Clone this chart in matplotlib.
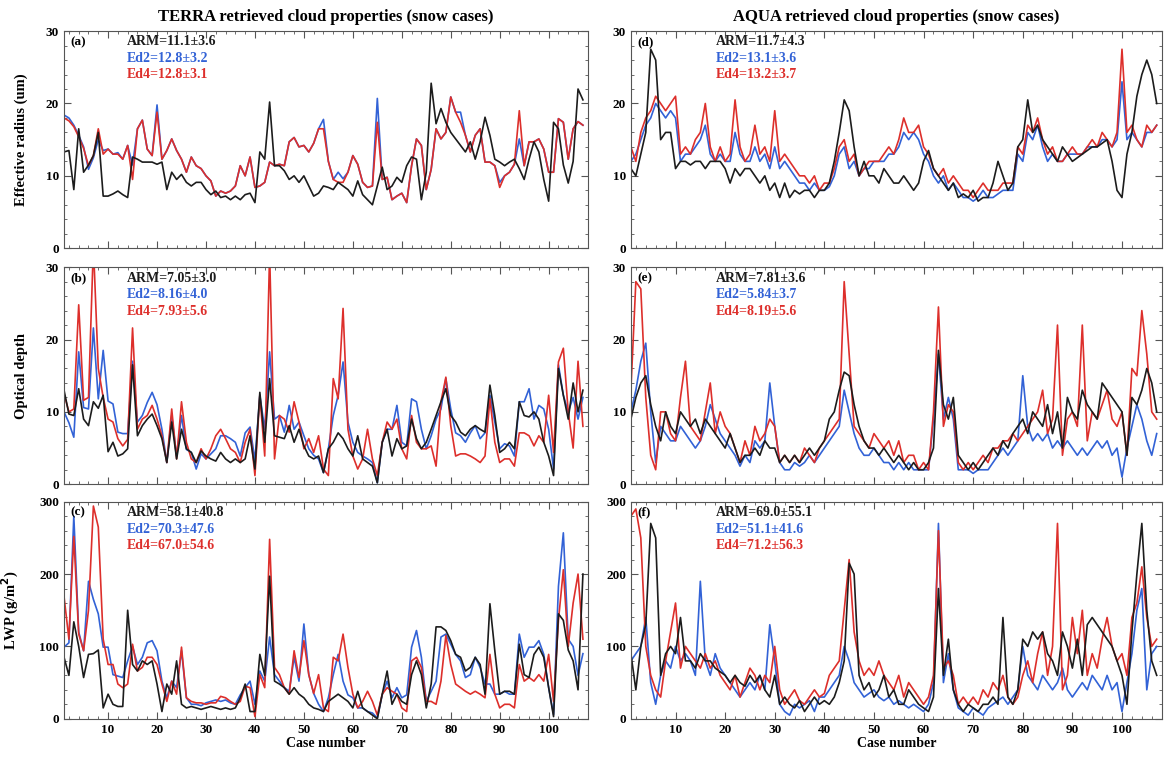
import numpy as np
import matplotlib
matplotlib.use("Agg")
import matplotlib.pyplot as plt
from matplotlib.ticker import MultipleLocator

plt.rcParams['font.family'] = ['Liberation Serif', 'DejaVu Serif']
plt.rcParams['font.weight'] = 'bold'

cases = np.arange(1, 108)

# ---- TERRA ----
arm_a = [13.3, 13.5, 8.1, 16.5, 10.5, 11.5, 12.8, 16.0, 7.2, 7.2, 7.5, 7.9, 7.4, 7.0, 12.6, 12.3, 11.9, 11.9, 11.9, 11.6,
         11.9, 8.1, 10.5, 9.5, 10.2, 9.1, 8.6, 9.1, 9.1, 8.1, 7.4, 7.9, 7.0, 7.2, 6.7, 7.2, 6.7, 7.4, 7.6, 6.3,
         13.3, 12.3, 20.2, 11.4, 11.4, 10.7, 9.5, 10.0, 9.1, 10.0, 8.6, 7.2, 7.6, 8.6, 8.4, 8.1, 9.1, 8.6, 8.1, 7.2,
         9.3, 7.4, 6.7, 6.0, 8.6, 11.2, 8.1, 8.6, 9.8, 9.1, 11.4, 12.6, 12.3, 6.7, 10.5, 22.8, 17.2, 19.3, 17.4, 16.0,
         15.1, 14.2, 13.3, 14.7, 12.3, 14.7, 18.1, 15.6, 12.3, 11.9, 11.4, 11.9, 12.3, 11.0, 9.5, 12.3, 14.7, 13.3, 9.5, 6.5,
         17.4, 16.5, 11.5, 9.0, 12.0, 22.0, 20.5]
ed2_a = [18.4, 18.0, 17.0, 15.6, 14.0, 10.9, 12.5, 15.0, 13.5, 13.7, 13.0, 13.2, 12.3, 14.2, 11.5, 16.5, 17.7, 13.7, 12.8, 19.8,
         12.3, 13.5, 15.1, 13.5, 12.3, 10.5, 12.6, 11.4, 11.0, 10.0, 9.3, 7.2, 7.9, 7.6, 7.9, 8.6, 11.4, 10.0, 12.6, 8.4,
         8.6, 9.1, 11.9, 11.4, 11.6, 11.4, 14.7, 15.3, 14.0, 14.2, 13.3, 14.5, 16.5, 17.8, 12.0, 9.5, 10.5, 9.6, 10.5, 12.8,
         11.6, 9.1, 8.4, 8.6, 20.7, 9.5, 9.8, 6.7, 7.2, 7.6, 6.3, 11.4, 15.1, 14.2, 8.1, 10.9, 16.5, 15.1, 16.0, 20.9,
         18.8, 18.8, 15.6, 13.3, 15.6, 16.5, 11.9, 11.9, 11.4, 9.1, 10.0, 10.5, 11.6, 15.1, 11.4, 14.7, 14.7, 15.1, 13.7, 10.5,
         10.5, 17.9, 17.4, 12.3, 16.5, 17.5, 17.0]
ed4_a = [18.0, 17.6, 16.8, 15.4, 13.8, 11.4, 12.8, 16.5, 13.0, 13.7, 13.0, 13.0, 12.3, 14.2, 9.5, 16.5, 17.7, 13.7, 12.8, 18.8,
         12.3, 13.5, 15.1, 13.5, 12.3, 10.5, 12.6, 11.4, 11.0, 10.0, 9.3, 7.2, 7.9, 7.6, 7.9, 8.6, 11.4, 10.0, 12.6, 8.4,
         8.6, 9.1, 11.9, 11.4, 11.6, 11.4, 14.7, 15.3, 14.0, 14.2, 13.3, 14.5, 16.5, 16.5, 12.0, 9.5, 9.1, 9.1, 10.5, 12.8,
         11.6, 9.1, 8.4, 8.6, 17.4, 9.5, 9.8, 6.7, 7.2, 7.6, 6.3, 11.4, 15.1, 14.2, 8.1, 10.9, 16.5, 15.1, 16.0, 20.9,
         18.8, 17.4, 15.6, 13.3, 15.6, 16.5, 11.9, 11.9, 11.4, 8.4, 10.0, 10.5, 11.6, 19.0, 11.4, 14.7, 14.7, 15.1, 13.7, 10.5,
         10.5, 17.9, 17.4, 12.3, 16.5, 17.5, 17.0]

arm_b = [13.0, 9.7, 9.5, 13.2, 9.0, 8.1, 11.4, 10.5, 12.3, 4.5, 5.8, 3.9, 4.2, 4.9, 16.5, 6.7, 8.1, 9.0, 9.7, 8.1,
         6.3, 3.0, 8.6, 3.5, 7.6, 4.9, 4.4, 3.0, 4.6, 3.9, 3.5, 3.2, 4.4, 3.5, 3.0, 3.5, 3.0, 3.5, 6.7, 2.1,
         12.7, 5.8, 14.6, 6.7, 6.5, 6.3, 8.1, 5.8, 7.6, 5.3, 3.9, 3.5, 3.9, 1.6, 4.9, 5.8, 7.1, 6.3, 4.9, 3.9,
         6.7, 3.5, 3.0, 2.5, 0.2, 5.8, 7.6, 3.9, 6.3, 4.9, 5.3, 9.0, 6.3, 4.9, 5.8, 7.6, 9.5, 11.4, 13.2, 9.5,
         8.6, 7.2, 6.7, 7.6, 8.1, 7.6, 7.2, 13.7, 9.5, 4.4, 4.9, 5.8, 4.9, 11.4, 9.5, 9.3, 10.0, 9.0, 5.8, 3.9,
         1.2, 16.0, 12.3, 9.0, 14.0, 10.0, 13.0]
ed2_b = [10.0, 8.5, 6.5, 18.3, 10.6, 10.4, 21.6, 11.8, 18.5, 11.5, 11.1, 7.2, 7.0, 7.0, 17.0, 8.6, 9.5, 11.3, 12.7, 11.0,
         7.6, 3.0, 9.5, 3.9, 9.5, 4.8, 4.4, 2.1, 4.2, 3.5, 4.2, 4.9, 6.7, 6.7, 6.3, 5.8, 3.9, 7.1, 7.9, 3.3,
         12.3, 7.6, 18.3, 9.0, 9.5, 7.2, 10.9, 7.6, 8.6, 6.7, 4.9, 4.0, 3.5, 1.6, 4.9, 9.5, 12.3, 16.9, 8.6, 5.8,
         4.4, 3.9, 3.5, 3.0, 0.2, 5.8, 7.6, 7.6, 10.9, 5.8, 5.3, 11.8, 11.4, 7.6, 4.9, 6.7, 9.0, 10.4, 14.6, 10.4,
         7.1, 6.7, 5.8, 7.1, 8.1, 6.3, 7.1, 12.3, 8.6, 4.9, 5.6, 5.3, 3.9, 11.4, 11.4, 13.2, 9.0, 10.9, 10.4, 7.6,
         2.1, 16.5, 12.3, 10.0, 12.0, 9.0, 12.0]
ed4_b = [12.5, 10.0, 10.4, 24.8, 11.6, 12.0, 33.0, 16.0, 12.0, 9.0, 8.6, 6.3, 5.3, 6.2, 21.6, 7.6, 9.0, 9.5, 10.9, 9.0,
         6.7, 3.0, 10.4, 3.5, 11.4, 5.8, 3.5, 3.0, 4.9, 3.5, 4.9, 6.7, 7.6, 6.3, 4.9, 4.4, 3.0, 5.8, 7.6, 1.2,
         12.3, 3.9, 32.0, 3.5, 9.5, 9.0, 7.2, 11.4, 8.6, 4.9, 6.3, 4.4, 6.7, 2.1, 1.2, 14.6, 11.8, 24.3, 7.6, 3.9,
         2.1, 3.5, 7.6, 3.5, 1.2, 5.8, 8.6, 7.6, 9.0, 4.9, 3.5, 9.5, 5.8, 4.9, 4.9, 5.3, 2.5, 11.4, 14.8, 8.1,
         3.9, 4.2, 4.2, 3.9, 3.5, 3.0, 3.9, 11.8, 5.8, 3.0, 3.5, 3.5, 2.5, 7.1, 7.1, 6.7, 5.3, 6.7, 5.8, 12.3,
         4.4, 16.9, 18.8, 10.0, 5.0, 17.0, 8.0]

arm_c = [85, 60, 134, 100, 57, 89, 90, 95, 15, 34, 20, 17, 17, 150, 75, 66, 80, 75, 80, 48,
         10, 48, 34, 80, 20, 15, 17, 15, 13, 15, 17, 15, 13, 15, 13, 15, 29, 48, 10, 10,
         89, 60, 197, 52, 48, 43, 34, 43, 34, 29, 20, 15, 13, 10, 24, 29, 34, 29, 24, 15,
         38, 15, 10, 5, 0, 34, 66, 20, 34, 24, 20, 61, 80, 61, 15, 48, 127, 127, 122, 108,
         89, 85, 66, 71, 85, 75, 34, 159, 94, 34, 38, 38, 34, 103, 61, 57, 89, 99, 85, 43,
         3, 145, 136, 95, 80, 40, 200]
ed2_c = [99, 105, 280, 120, 94, 190, 165, 145, 99, 99, 61, 59, 57, 80, 100, 75, 85, 105, 108, 94,
         52, 29, 52, 43, 94, 29, 20, 20, 18, 22, 24, 26, 24, 26, 22, 20, 33, 43, 52, 20,
         66, 52, 113, 61, 52, 43, 38, 85, 52, 131, 61, 35, 20, 10, 29, 61, 89, 52, 33, 29,
         15, 15, 10, 8, 1, 33, 52, 29, 43, 29, 33, 99, 122, 85, 24, 38, 52, 113, 117, 103,
         89, 80, 57, 61, 85, 71, 48, 48, 34, 34, 38, 34, 34, 117, 85, 99, 99, 108, 89, 43,
         6, 183, 257, 110, 100, 60, 90]
ed4_c = [169, 110, 252, 117, 94, 150, 294, 265, 110, 75, 75, 48, 43, 48, 103, 66, 71, 85, 85, 75,
         48, 24, 52, 34, 99, 29, 24, 22, 22, 20, 22, 22, 31, 29, 24, 20, 24, 45, 43, 3,
         61, 43, 248, 71, 61, 43, 34, 94, 57, 108, 61, 35, 61, 15, 10, 85, 80, 117, 71, 34,
         15, 24, 38, 24, 5, 34, 43, 38, 34, 15, 10, 80, 85, 71, 24, 24, 20, 52, 115, 75,
         48, 43, 38, 34, 38, 34, 29, 89, 34, 15, 20, 20, 15, 75, 52, 57, 52, 61, 52, 89,
         24, 136, 206, 100, 160, 200, 110]

# ---- AQUA ----
arm_d = [11, 10, 13, 16, 27.5, 26, 15, 16, 16, 11, 12, 12, 11.5, 12, 12, 11, 12, 12, 12, 11,
         9, 11, 10, 11, 11, 10, 9, 10, 8, 9, 7, 9, 7, 8, 7.5, 8, 8, 7, 8, 8,
         9, 12, 16, 20.5, 19, 14, 10, 12, 10, 10, 9, 11, 10, 9, 9, 10, 9, 8, 9, 12,
         13.5, 11, 10, 9, 8, 9, 7, 7.5, 7, 8, 6.5, 7, 7, 9, 12, 10, 8, 9, 14, 15,
         20.5, 16, 17, 15, 14, 13, 12, 14, 13, 12, 12.5, 13, 13.5, 14, 14, 14.5, 15, 12, 8, 7,
         13, 16, 21, 24, 26, 24, 20]
ed2_d = [12, 13, 15, 17, 18, 20, 19, 18, 19, 18, 12, 13, 13, 14, 15, 17, 13, 12, 13, 12,
         12, 16, 13, 12, 12, 14, 12, 13, 11, 14, 11, 12, 11, 10, 9, 9, 8, 9, 8, 8,
         8.5, 10, 13, 14, 11, 12, 10, 11, 11, 12, 12, 12, 13, 13, 14, 16, 15, 16, 15, 13,
         12, 10, 9, 10, 8, 9, 8, 7, 7, 6.5, 7, 8, 7, 7, 7.5, 8, 8, 8, 13, 12,
         16, 15, 17, 14, 12, 13, 12, 12, 13, 13, 13, 13, 14, 14, 14, 15, 15, 14, 15, 23,
         15, 16, 15, 14, 16, 16, 17]
ed4_d = [14, 12, 16, 18, 19, 21, 20, 19, 20, 21, 13, 14, 13, 15, 16, 20, 14, 12, 14, 12,
         13, 20.5, 14, 12, 13, 17, 13, 14, 12, 19, 12, 13, 12, 11, 10, 10, 9, 10, 8, 9,
         9, 11, 14, 15, 12, 13, 10, 11, 12, 12, 12, 13, 14, 13, 15, 18, 16, 16, 17, 14,
         13, 11, 10, 11, 9, 10, 9, 8, 8, 7, 8, 9, 8, 8, 8, 9, 9, 9, 14, 13,
         17, 16, 18, 15, 13, 14, 12, 12, 13, 14, 13, 13, 14, 15, 14, 16, 15, 14, 16, 27.5,
         16, 17, 15, 14, 17, 16, 17]

arm_e = [9, 12, 14, 15, 11, 8, 6, 10, 8, 7, 10, 9, 8, 9, 7, 9, 8, 7, 6, 5,
         7, 5, 3, 4, 4, 5, 4, 6, 5, 5, 3, 4, 3, 4, 3, 4, 5, 4, 5, 6,
         9, 10, 13, 15.5, 15, 11, 8, 6, 5, 5, 4, 5, 4, 3, 4, 3, 2, 3, 2, 2,
         3, 5, 18.5, 11, 9, 12, 4, 3, 2, 3, 2, 3, 4, 5, 4, 6, 5, 7, 8, 9,
         7, 10, 9, 8, 11, 7, 10, 5, 12, 10, 9, 13, 11, 10, 9, 14, 13, 12, 11, 10,
         4, 12, 11, 13, 16, 14, 10]
ed2_e = [10, 13, 17, 19.5, 10, 3, 8, 7, 6, 6, 8, 7, 6, 5, 6, 8, 11, 9, 7, 6,
         5, 4, 2.5, 4, 3, 6, 5, 6, 14, 8, 3, 2, 2, 3, 2.5, 3, 4, 3, 4, 5,
         6, 7, 8, 13, 10, 7, 5, 4, 4, 5, 4, 3, 3, 2, 3, 2, 3, 2, 2, 2,
         2, 9, 18, 9, 12, 9, 2, 2, 2, 1.5, 2, 2, 2, 3, 4, 5, 4, 5, 6, 15,
         8, 6, 7, 6, 7, 5, 6, 5, 6, 5, 4, 5, 4, 5, 6, 5, 6, 4, 5, 1,
         5, 8, 11, 9, 6, 4, 7]
ed4_e = [13, 28, 27, 12, 4, 2, 10, 10, 7, 6, 12, 17, 8, 7, 6, 10, 14, 7, 10, 8,
         7, 5, 3, 6, 4, 8, 6, 7, 9, 8, 3, 4, 3, 4, 3, 5, 4, 3, 5, 6,
         7, 8, 9, 28, 18, 8, 7, 6, 5, 7, 6, 5, 6, 4, 6, 3, 4, 4, 2, 3,
         2, 10, 24.5, 8, 11, 10, 3, 2, 3, 2, 3, 4, 3, 5, 5, 6, 6, 7, 6, 7,
         8, 9, 10, 13, 7, 9, 22, 4, 9, 10, 8, 22, 6, 10, 9, 11, 13, 9, 8, 10,
         4, 16, 15, 24, 18, 10, 9]

arm_f = [90, 40, 100, 130, 270, 250, 60, 90, 100, 90, 140, 80, 80, 70, 90, 80, 80, 70, 65, 60,
         50, 60, 50, 45, 60, 50, 60, 40, 30, 60, 20, 30, 20, 15, 25, 10, 20, 30, 20, 25,
         20, 30, 50, 80, 215, 200, 60, 40, 50, 30, 40, 60, 30, 40, 20, 20, 40, 30, 20, 15,
         10, 30, 180, 60, 110, 40, 20, 10, 20, 15, 10, 20, 20, 30, 20, 140, 30, 20, 40, 110,
         100, 120, 110, 120, 90, 80, 60, 120, 100, 70, 110, 60, 130, 140, 130, 120, 110, 100, 80, 60,
         20, 120, 200, 270, 150, 80, 60]
ed2_f = [80, 90, 100, 140, 50, 20, 60, 80, 70, 100, 80, 90, 80, 60, 190, 80, 60, 90, 70, 60,
         50, 40, 30, 40, 50, 40, 60, 40, 130, 80, 20, 10, 5, 20, 15, 20, 25, 10, 30, 30,
         40, 50, 60, 100, 80, 50, 40, 30, 35, 40, 30, 25, 30, 20, 25, 20, 15, 20, 15, 10,
         20, 50, 270, 50, 90, 40, 15, 10, 5, 15, 10, 5, 15, 20, 25, 30, 20, 30, 40, 100,
         60, 50, 40, 60, 50, 40, 50, 70, 40, 30, 40, 50, 40, 60, 50, 40, 60, 40, 50, 10,
         50, 90, 150, 180, 40, 90, 100]
ed4_f = [280, 290, 250, 100, 60, 40, 30, 80, 120, 160, 70, 100, 90, 80, 70, 90, 70, 80, 60, 50,
         40, 60, 30, 50, 70, 60, 40, 60, 50, 100, 40, 20, 30, 40, 25, 20, 30, 40, 30, 35,
         60, 70, 80, 150, 220, 120, 80, 60, 70, 60, 80, 60, 50, 40, 60, 30, 50, 40, 30, 20,
         30, 60, 260, 70, 80, 60, 20, 30, 20, 30, 20, 40, 30, 50, 40, 60, 30, 20, 30, 60,
         80, 50, 90, 120, 60, 100, 270, 40, 60, 140, 90, 150, 60, 90, 70, 110, 140, 100, 80, 90,
         60, 140, 160, 210, 140, 100, 110]

panels = [
    ("(a)", arm_a, ed2_a, ed4_a, ["ARM=11.1\u00b13.6", "Ed2=12.8\u00b13.2", "Ed4=12.8\u00b13.1"], 30, "Effective radius (um)"),
    ("(b)", arm_b, ed2_b, ed4_b, ["ARM=7.05\u00b13.0", "Ed2=8.16\u00b14.0", "Ed4=7.93\u00b15.6"], 30, "Optical depth"),
    ("(c)", arm_c, ed2_c, ed4_c, ["ARM=58.1\u00b140.8", "Ed2=70.3\u00b147.6", "Ed4=67.0\u00b154.6"], 300, "LWP (g/m$^{\\mathbf{2}}$)"),
    ("(d)", arm_d, ed2_d, ed4_d, ["ARM=11.7\u00b14.3", "Ed2=13.1\u00b13.6", "Ed4=13.2\u00b13.7"], 30, None),
    ("(e)", arm_e, ed2_e, ed4_e, ["ARM=7.81\u00b13.6", "Ed2=5.84\u00b13.7", "Ed4=8.19\u00b15.6"], 30, None),
    ("(f)", arm_f, ed2_f, ed4_f, ["ARM=69.0\u00b155.1", "Ed2=51.1\u00b141.6", "Ed4=71.2\u00b156.3"], 300, None),
]

col_black = '#1c1c1c'
col_blue = '#3262d6'
col_red = '#dd2f2b'

fig = plt.figure(figsize=(11.64, 7.59), dpi=100)

lefts = [0.055, 0.542]
widths = [0.450, 0.456]
bottoms = [0.673, 0.362, 0.053]
h = 0.286

for i, (tag, arm, ed2, ed4, labels, ymax, ylab) in enumerate(panels):
    col = i // 3
    row = i % 3
    ax = fig.add_axes([lefts[col], bottoms[row], widths[col], h])
    ax.plot(cases, ed2, color=col_blue, lw=1.2)
    ax.plot(cases, ed4, color=col_red, lw=1.2)
    ax.plot(cases, arm, color=col_black, lw=1.2)
    ax.set_xlim(1, 108)
    ax.set_ylim(0, ymax)
    ax.xaxis.set_major_locator(MultipleLocator(10))
    ax.xaxis.set_minor_locator(MultipleLocator(2))
    ax.yaxis.set_major_locator(MultipleLocator(ymax / 3))
    ax.yaxis.set_minor_locator(MultipleLocator(ymax / 15))
    ax.tick_params(which='both', direction='in', top=True, right=True, labelsize=9.5, color='#555555')
    ax.tick_params(which='major', length=5)
    ax.tick_params(which='minor', length=2.5)
    for s in ax.spines.values():
        s.set_linewidth(0.8)
        s.set_color('#555555')
    if row < 2:
        ax.set_xticklabels([])
    else:
        ax.set_xticks([10, 20, 30, 40, 50, 60, 70, 80, 90, 100])
        ax.set_xlabel("Case number", fontsize=10, fontweight='bold', labelpad=1)
    if ylab:
        ax.set_ylabel(ylab, fontsize=10.5, fontweight='bold', labelpad=13)
    ax.text(0.012, 0.95, tag, transform=ax.transAxes, fontsize=9.5, fontweight='bold', va='center')
    tx = 0.12 if col == 0 else 0.16
    for k, (lab, c) in enumerate(zip(labels, [col_black, col_blue, col_red])):
        ax.text(tx, 0.95 - k * 0.076, lab, transform=ax.transAxes, fontsize=10,
                fontweight='bold', color=c, va='center')
    if row == 0:
        title = "TERRA retrieved cloud properties (snow cases)" if col == 0 else "AQUA retrieved cloud properties (snow cases)"
        ax.set_title(title, fontsize=12, fontweight='bold', pad=7)

fig.savefig("out.png", dpi=100)
